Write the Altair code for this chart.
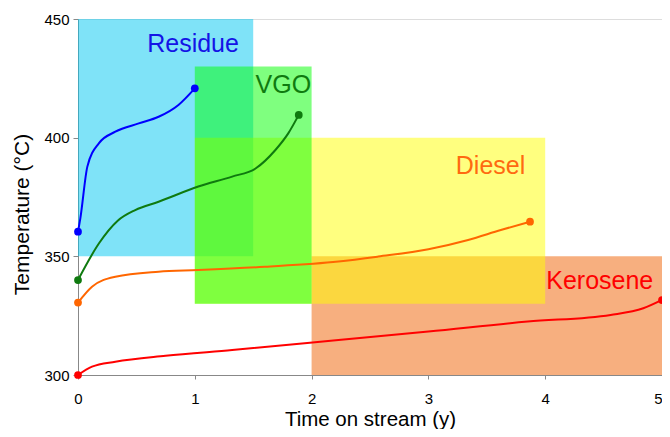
import altair as alt
import pandas as pd

# ---- data ----
residue_x = [0.0, 0.02, 0.08, 0.18, 0.32, 0.52, 0.69, 0.86, 1.0]
residue_y = [360.4, 366.0, 387.8, 397.7, 402.5, 406.0, 408.8, 413.8, 420.8]

vgo_x = [0.0, 0.18, 0.34, 0.49, 0.69, 1.03, 1.32, 1.52, 1.69, 1.80, 1.89]
vgo_y = [340.0, 355.5, 365.0, 369.5, 373.0, 379.4, 383.6, 387.0, 394.8, 401.8, 409.6]

diesel_x = [0.0, 0.12, 0.32, 0.69, 1.03, 1.60, 2.23, 2.57, 3.0, 3.34, 3.62, 3.87]
diesel_y = [330.5, 337.2, 341.4, 343.5, 344.2, 345.6, 347.8, 349.9, 353.0, 356.9, 361.1, 364.6]

kero_x = [0.0, 0.12, 0.32, 0.75, 1.32, 2.23, 3.0, 3.85, 4.56, 4.84, 5.0]
kero_y = [300.0, 303.5, 305.6, 308.1, 310.5, 314.7, 318.3, 322.5, 325.3, 328.1, 331.6]

series_names = ["Residue", "VGO", "Diesel", "Kerosene"]
line_colors = ["#0000FF", "#0F7A0F", "#FF6600", "#FF0000"]
text_colors = ["#1414E6", "#0F7A0F", "#FF6A10", "#FF0000"]

# boxes (drawn in this order)
box_names = ["Kerosene", "Residue", "Diesel", "VGO"]
box_x1 = [2.0, 0.0, 1.0, 1.0]
box_x2 = [5.0, 1.5, 4.0, 2.0]
box_y1 = [300, 350, 330, 330]
box_y2 = [350, 450, 400, 430]
box_colors = ["#F06000", "#00C8F2", "#FFFF00", "#00FF00"]

# label anchor (centre x, baseline y)
label_x = [0.985, 1.758, 3.532, 4.467]
label_y = [436.1, 419.0, 384.7, 336.2]

# ---- tables ----
curves = []
for name, xs, ys, c in zip(series_names,
                           [residue_x, vgo_x, diesel_x, kero_x],
                           [residue_y, vgo_y, diesel_y, kero_y],
                           line_colors):
    for i, (a, b) in enumerate(zip(xs, ys)):
        curves.append({"series": name, "x": a, "y": b, "c": c, "i": i,
                       "end": i == 0 or i == len(xs) - 1})
curves = pd.DataFrame(curves)
ends = curves[curves["end"]]

boxes = pd.DataFrame({"name": box_names, "x1": box_x1, "x2": box_x2,
                      "y1": box_y1, "y2": box_y2, "c": box_colors,
                      "o": list(range(len(box_names)))})

labels = pd.DataFrame({"name": series_names, "x": label_x, "y": label_y,
                       "c": text_colors})

font = "Liberation Sans"
xs = alt.Scale(domain=[0, 5], nice=False)
ys = alt.Scale(domain=[300, 450], nice=False)

W, H = 584, 356

xaxis = alt.Axis(values=[0, 1, 2, 3, 4, 5], format="d", title="Time on stream (y)",
                 grid=False, labelFontSize=15, titleFontSize=20.5, labelFont=font,
                 titleFont=font, titleFontWeight="normal", domainColor="#888888",
                 tickColor="#888888", tickSize=4, labelPadding=12, labelFlush=False,
                 labelAlign=alt.ExprRef(expr="datum.value == 5 ? 'right' : 'center'"),
                 labelColor="#000000", titleColor="#000000",
                 titleY=50, titleBaseline="alphabetic")
yaxis = alt.Axis(values=[300, 350, 400, 450], title="Temperature (°C)", grid=False,
                 labelFontSize=15, titleFontSize=21, labelFont=font, titleFont=font,
                 titleFontWeight="normal", domainColor="#888888", tickColor="#888888",
                 tickSize=5, labelPadding=4, labelFlush=False, labelColor="#000000",
                 titleColor="#000000", titleX=-56, titleY=195, titleAngle=270,
                 titleAlign="center", titleBaseline="middle")

rects = alt.Chart(boxes).mark_rect(opacity=0.5).encode(
    x=alt.X("x1:Q", scale=xs, axis=xaxis),
    x2="x2:Q",
    y=alt.Y("y1:Q", scale=ys, axis=yaxis),
    y2="y2:Q",
    color=alt.Color("c:N", scale=None),
    order="o:Q",
)

lines = alt.Chart(curves).mark_line(interpolate="monotone", strokeWidth=2).encode(
    x=alt.X("x:Q", scale=xs),
    y=alt.Y("y:Q", scale=ys),
    color=alt.Color("c:N", scale=None),
    detail="series:N",
    order="i:Q",
)

dots = alt.Chart(ends).mark_circle(size=60, opacity=1).encode(
    x=alt.X("x:Q", scale=xs),
    y=alt.Y("y:Q", scale=ys),
    color=alt.Color("c:N", scale=None),
)

texts = alt.Chart(labels).mark_text(fontSize=25, font=font, align="center",
                                    baseline="alphabetic").encode(
    x=alt.X("x:Q", scale=xs),
    y=alt.Y("y:Q", scale=ys),
    text="name:N",
    color=alt.Color("c:N", scale=None),
)

chart = alt.layer(rects, lines, dots, texts).properties(
    width=W, height=H,
    autosize=alt.AutoSizeParams(type="none"),
    padding={"left": 70, "top": 11, "right": 0, "bottom": 54},
).configure_view(stroke="#999999", strokeWidth=1).configure(background="white")

chart.save("out.html", embed_options={"renderer": "svg", "actions": False})
